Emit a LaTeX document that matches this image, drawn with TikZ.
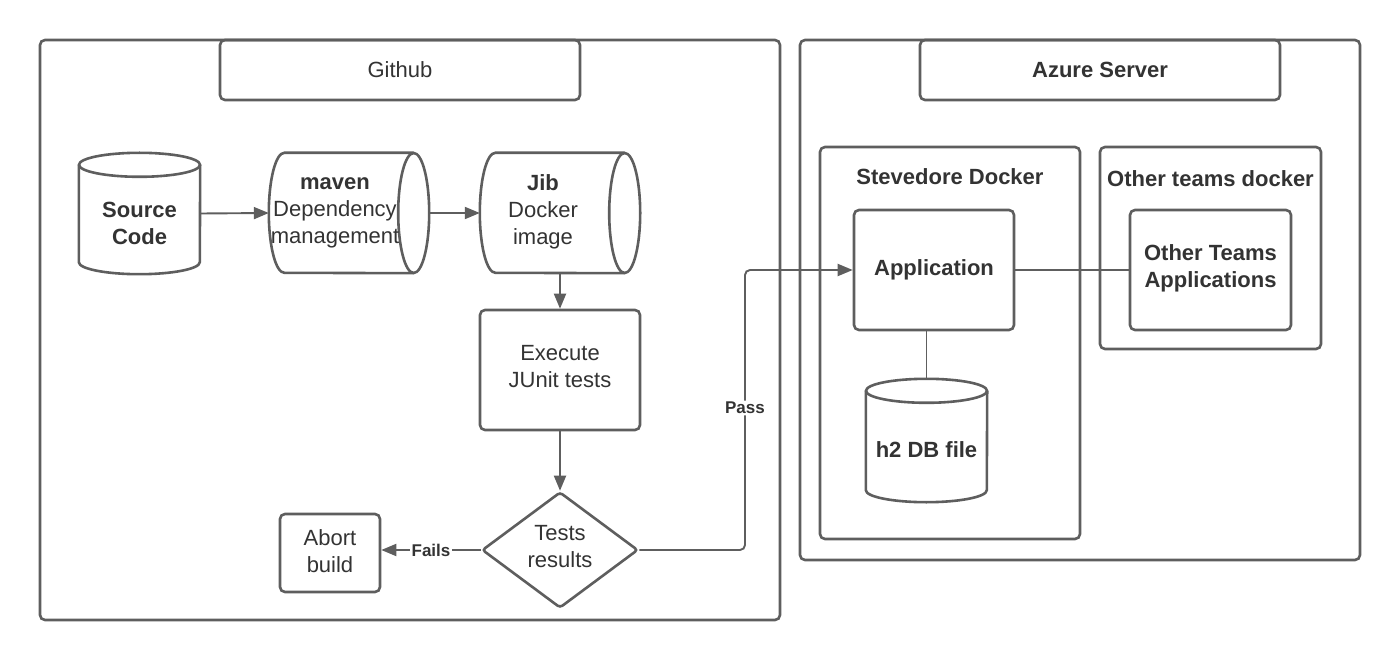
\documentclass[tikz,border=0pt]{standalone}
\usepackage{fontspec}
\setmainfont{Liberation Sans}
\usetikzlibrary{shapes.geometric,arrows.meta}
\definecolor{ln}{HTML}{5E5E5E}
\definecolor{tx}{HTML}{333333}
\begin{document}
\begin{tikzpicture}[x=1pt,y=-1pt,
  every node/.style={text=tx, font=\fontsize{22}{27}\selectfont, align=center},
  box/.style={draw=ln, line width=2.6pt, rounded corners=5pt, inner sep=0pt},
  ghost/.style={inner sep=0pt, draw=none},
  cylst/.style={draw=ln, line width=2.6pt, fill=none},
  conn/.style={draw=ln, line width=1.9pt},
  arr/.style={conn, -{Triangle[length=15pt,width=12pt]}},
  lbl/.style={fill=white, font=\fontsize{17}{20}\selectfont\bfseries, inner sep=1.5pt},
  bold/.style={font=\fontsize{22}{27}\selectfont\bfseries}
]
\useasboundingbox (0,0) rectangle (1400,660);
\fill[white] (0,0) rectangle (1400,660);

% Containers
\node[box, minimum width=740pt, minimum height=580pt] (gh) at (410,330) {};
\node[box, minimum width=360pt, minimum height=60pt] (ghh) at (400,70) {Github};
\node[box, minimum width=560pt, minimum height=520pt] (az) at (1080,300) {};
\node[box, bold, minimum width=360pt, minimum height=60pt] (azh) at (1100,70) {Azure Server};
\node[box, minimum width=260pt, minimum height=392pt] (sd) at (950,343) {};
\node[bold] (sdt) at (950,177) {Stevedore Docker};
\node[box, minimum width=221pt, minimum height=202pt] (od) at (1210.5,248) {};
\node[bold] (odt) at (1210.5,179) {Other teams docker};

% Source Code cylinder
\node[ghost, minimum width=121pt, minimum height=121pt] (src) at (139.5,213.5) {};
\draw[cylst] ([yshift=-12pt]src.north west) -- ([yshift=12pt]src.south west)
  arc[start angle=180, end angle=360, x radius=60.5pt, y radius=12pt]
  -- ([yshift=-12pt]src.north east);
\draw[cylst] ([yshift=-12pt]src.north) ellipse[x radius=60.5pt, y radius=12pt];
\node[bold] (srct) at (139.5,223) {Source\\Code};

% maven cylinder
\node[ghost, minimum width=160pt, minimum height=120pt] (mvn) at (349,213) {};
\draw[cylst] ([xshift=-15.5pt]mvn.north east) -- ([xshift=15.5pt]mvn.north west)
  arc[start angle=90, end angle=270, x radius=15.5pt, y radius=60pt]
  -- ([xshift=-15.5pt]mvn.south east);
\draw[cylst] ([xshift=-15.5pt]mvn.east) ellipse[x radius=15.5pt, y radius=60pt];
\node (mvnt) at (335,213) {\textbf{maven}\\Dependency\\management};

% Jib cylinder
\node[ghost, minimum width=160pt, minimum height=120pt] (jib) at (560,213) {};
\draw[cylst] ([xshift=-15.5pt]jib.north east) -- ([xshift=15.5pt]jib.north west)
  arc[start angle=90, end angle=270, x radius=15.5pt, y radius=60pt]
  -- ([xshift=-15.5pt]jib.south east);
\draw[cylst] ([xshift=-15.5pt]jib.east) ellipse[x radius=15.5pt, y radius=60pt];
\node (jibt) at (543,212) {\textbf{Jib}\\Docker\\image};

% Execute
\node[box, minimum width=160pt, minimum height=120pt] (exec) at (560,370) {};
\node (exect) at (560,367) {Execute\\JUnit tests};

% Diamond
\node[draw=ln, line width=2.6pt, diamond, inner sep=0pt, minimum width=156pt, minimum height=116pt, rounded corners=3pt] (dia) at (560,550) {};
\node (diat) at (560,547) {Tests\\results};

% Abort
\node[box, minimum width=100pt, minimum height=78pt] (abort) at (330,553) {};
\node (abortt) at (330,551) {Abort\\build};

% Application
\node[box, minimum width=160pt, minimum height=120pt] (app) at (934,270) {};
\node[bold] (appt) at (934,270) {Application};

% Other Teams Applications
\node[box, minimum width=161pt, minimum height=120pt] (ota) at (1210.5,270) {};
\node[bold] (otat) at (1210.5,268) {Other Teams\\Applications};

% h2 cylinder
\node[ghost, minimum width=121pt, minimum height=123pt] (h2) at (926.5,440.5) {};
\draw[cylst] ([yshift=-12pt]h2.north west) -- ([yshift=12pt]h2.south west)
  arc[start angle=180, end angle=360, x radius=60.5pt, y radius=12pt]
  -- ([yshift=-12pt]h2.north east);
\draw[cylst] ([yshift=-12pt]h2.north) ellipse[x radius=60.5pt, y radius=12pt];
\node[bold] (h2t) at (926.5,450) {h2 DB file};

% Connectors
\coordinate (pc) at (745,0);
\draw[arr] (src.east) -- (mvn.west);
\draw[arr] (mvn.east) -- (jib.west);
\draw[arr] (jib.south) -- (exec.north);
\draw[arr] (exec.south) -- (dia.north);
\draw[arr] (dia.west) -- node[lbl, midway] {Fails} (abort.east |- dia.west);
\draw[arr, rounded corners=5pt] (dia.east) -- (pc |- dia.east) -- node[lbl, pos=0.507] {Pass} (pc |- app.west) -- (app.west);
\draw[conn] (app.east) -- (ota.west);
\draw[conn] (h2.north) -- (h2.north |- app.south);
\end{tikzpicture}
\end{document}
